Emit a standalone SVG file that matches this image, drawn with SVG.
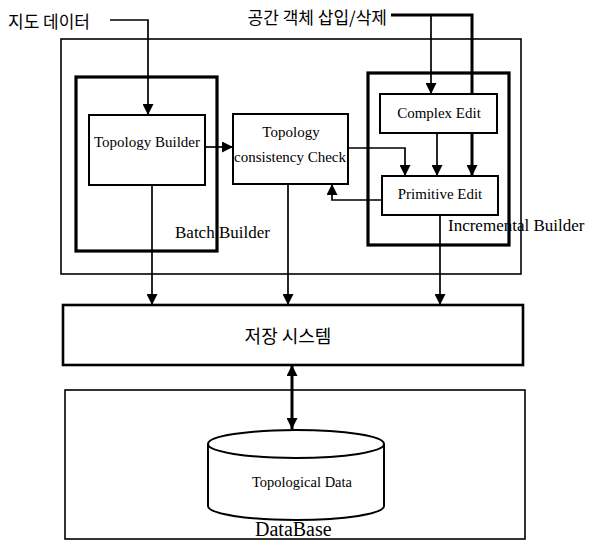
<svg xmlns="http://www.w3.org/2000/svg" width="595" height="560" viewBox="0 0 595 560">
  <style>
    .bg { fill: #ffffff; }
    .frame { fill: none; stroke: #000; stroke-width: 1.6; }
    .thick { fill: none; stroke: #000; stroke-width: 3.2; }
    .box { fill: #ffffff; stroke: #000; stroke-width: 2; }
    .store { fill: #ffffff; stroke: #000; stroke-width: 2.6; }
    .wire { fill: none; stroke: #000; stroke-width: 1.7; }
    .wire-bold { fill: none; stroke: #000; stroke-width: 3; }
    .en { font-family: "Liberation Serif", "Times New Roman", serif; fill: #000; }
    .ko { font-family: "Noto Sans CJK KR", "Noto Sans", sans-serif; fill: #000; }
  </style>
  <defs>
    <marker id="arrow" viewBox="0 0 10 10" refX="10" refY="5" markerWidth="11" markerHeight="11" markerUnits="userSpaceOnUse" orient="auto-start-reverse">
      <path d="M0,0 L10,5 L0,10 Z" fill="#000"/>
    </marker>
  </defs>

  <rect class="bg" x="0" y="0" width="595" height="560"/>

  <!-- builder area frame -->
  <g id="builder-frame">
    <rect class="frame" x="61" y="39" width="460" height="235"/>
  </g>

  <!-- batch builder -->
  <g id="batch-builder">
    <rect class="thick" x="76" y="77" width="141" height="174"/>
    <text class="en" x="175" y="238" font-size="17">Batch Builder</text>
  </g>

  <!-- incremental builder -->
  <g id="incremental-builder">
    <rect class="thick" x="368" y="73" width="141" height="172"/>
    <text class="en" x="448" y="231" font-size="17">Incremental Builder</text>
  </g>

  <g id="topology-builder">
    <rect class="box" x="89" y="115" width="116" height="70"/>
    <text class="en" x="147" y="147" font-size="15" text-anchor="middle">Topology Builder</text>
  </g>

  <g id="consistency-check">
    <rect class="box" x="233" y="114" width="115" height="70"/>
    <text class="en" x="291" y="137" font-size="15" text-anchor="middle">Topology</text>
    <text class="en" x="290" y="162" font-size="15" text-anchor="middle">consistency Check</text>
  </g>

  <g id="complex-edit">
    <rect class="box" x="380" y="94" width="117" height="39"/>
    <text class="en" x="439" y="118" font-size="15" text-anchor="middle">Complex Edit</text>
  </g>

  <g id="primitive-edit">
    <rect class="box" x="382" y="176" width="116" height="39"/>
    <text class="en" x="440" y="199" font-size="15" text-anchor="middle">Primitive Edit</text>
  </g>

  <g id="storage-system">
    <rect class="store" x="63" y="305" width="460" height="60"/>
    <text class="ko" x="288" y="343" font-size="18" text-anchor="middle">저장 시스템</text>
  </g>

  <g id="database">
    <rect class="frame" x="65" y="390" width="460" height="149"/>
    <path class="box" d="M208,444 V506 A88,14 0 0 0 384,506 V444"/>
    <ellipse class="box" cx="296" cy="444" rx="88" ry="14"/>
    <text class="en" x="302" y="487" font-size="14.5" text-anchor="middle">Topological Data</text>
    <text class="en" x="255" y="536" font-size="20">DataBase</text>
  </g>

  <!-- external inputs -->
  <g id="inputs">
    <text class="ko" x="8" y="28" font-size="17">지도 데이터</text>
    <text class="ko" x="387" y="24" font-size="17" text-anchor="end">공간 객체 삽입/삭제</text>
  </g>

  <!-- connectors -->
  <g id="connectors">
    <path class="wire" d="M110,20 H148 V115" marker-end="url(#arrow)"/>
    <path class="wire-bold" d="M391,15 H472 V94"/>
    <path class="wire" d="M431,15 V94" marker-end="url(#arrow)"/>
    <path class="wire" d="M205,147 H233" marker-end="url(#arrow)"/>
    <path class="wire" d="M348,148 H405 V176" marker-end="url(#arrow)"/>
    <path class="wire" d="M437,133 V176" marker-end="url(#arrow)"/>
    <path class="wire-bold" d="M472,133 V176" marker-end="url(#arrow)"/>
    <path class="wire" d="M382,200 H332 V184" marker-end="url(#arrow)"/>
    <path class="wire" d="M152,185 V305" marker-end="url(#arrow)"/>
    <path class="wire" d="M288,184 V305" marker-end="url(#arrow)"/>
    <path class="wire" d="M440,215 V305" marker-end="url(#arrow)"/>
    <path class="wire-bold" d="M292,365 V429" marker-start="url(#arrow)" marker-end="url(#arrow)"/>
  </g>
</svg>
